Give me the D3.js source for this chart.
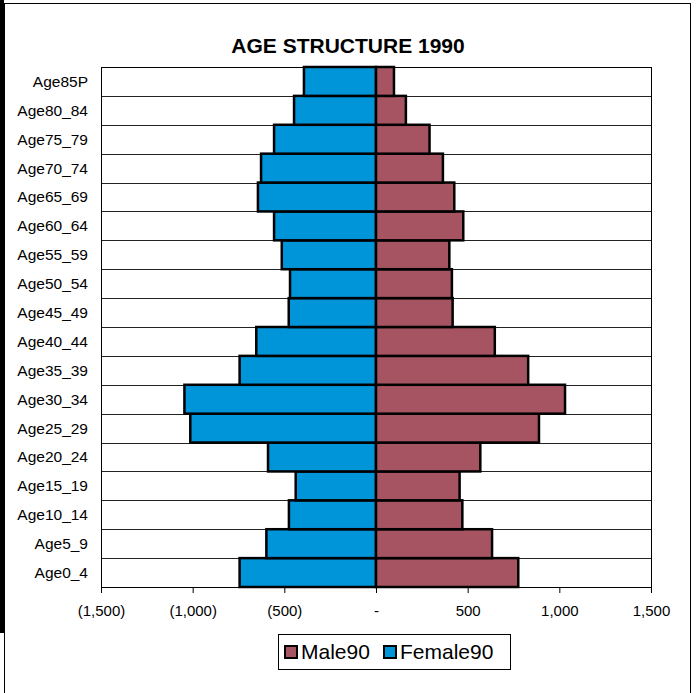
<!DOCTYPE html>
<html>
<head>
<meta charset="utf-8">
<script src="https://cdn.jsdelivr.net/npm/d3@7"></script>
<style>
  body { margin: 0; background: #fff; }
  svg { display: block; font-family: "Liberation Sans", Arial, sans-serif; }
</style>
</head>
<body>
<div id="chart"></div>
<script>
// age groups, bottom to top
var ageGroups = ["Age0_4", "Age5_9", "Age10_14", "Age15_19", "Age20_24", "Age25_29", "Age30_34",
  "Age35_39", "Age40_44", "Age45_49", "Age50_54", "Age55_59", "Age60_64", "Age65_69",
  "Age70_74", "Age75_79", "Age80_84", "Age85P"];
var male90 = [776, 633, 471, 456, 569, 889, 1031, 830, 648, 418, 414, 400, 476, 427, 365, 292, 163, 98];
var female90 = [744, 598, 475, 438, 589, 1013, 1045, 744, 653, 476, 469, 514, 556, 644, 627, 556, 447, 393];
var tickValues = [-1500, -1000, -500, 0, 500, 1000, 1500];
var tickLabels = ["(1,500)", "(1,000)", "(500)", "-", "500", "1,000", "1,500"];
var seriesNames = ["Male90", "Female90"];
var colors = { Male90: "#a65461", Female90: "#0094d9" };

var width = 696, height = 693;
var margin = { top: 67, right: 45, bottom: 106, left: 101 };

var svg = d3.select("#chart").append("svg")
    .attr("width", width)
    .attr("height", height);

// chart area border
svg.append("rect")
    .attr("x", 4.5).attr("y", 3.5)
    .attr("width", 686).attr("height", 700)
    .attr("fill", "none").attr("stroke", "#000").attr("stroke-width", 1);
svg.append("rect")
    .attr("x", 0).attr("y", 0)
    .attr("width", 4).attr("height", 633)
    .attr("fill", "#000");

var x = d3.scaleLinear()
    .domain([-1500, 1500])
    .range([margin.left, width - margin.right]);

var y = d3.scaleBand()
    .domain(ageGroups.slice().reverse())
    .range([margin.top, height - margin.bottom])
    .padding(0);

// title
svg.append("text")
    .attr("x", 348).attr("y", 53)
    .attr("text-anchor", "middle")
    .style("font-size", "21px").style("font-weight", "bold")
    .text("AGE STRUCTURE 1990");

// row separators
svg.append("g").selectAll("line")
    .data(ageGroups)
    .enter().append("line")
    .attr("x1", x(-1500)).attr("x2", x(1500))
    .attr("y1", function(d) { return Math.round(y(d)) + 0.5; })
    .attr("y2", function(d) { return Math.round(y(d)) + 0.5; })
    .attr("stroke", "#222").attr("stroke-width", 1);

// plot frame
svg.append("rect")
    .attr("x", x(-1500) + 0.5).attr("y", margin.top + 0.5)
    .attr("width", x(1500) - x(-1500)).attr("height", y.range()[1] - y.range()[0])
    .attr("fill", "none").attr("stroke", "#000").attr("stroke-width", 1);

// bars
var bars = svg.append("g");
bars.selectAll("rect.female")
    .data(ageGroups)
    .enter().append("rect")
    .attr("class", "female")
    .attr("x", function(d, i) { return x(-female90[i]); })
    .attr("y", function(d) { return y(d); })
    .attr("width", function(d, i) { return x(0) - x(-female90[i]); })
    .attr("height", y.bandwidth())
    .attr("fill", colors.Female90)
    .attr("stroke", "#000").attr("stroke-width", 2.5);

bars.selectAll("rect.male")
    .data(ageGroups)
    .enter().append("rect")
    .attr("class", "male")
    .attr("x", x(0))
    .attr("y", function(d) { return y(d); })
    .attr("width", function(d, i) { return x(male90[i]) - x(0); })
    .attr("height", y.bandwidth())
    .attr("fill", colors.Male90)
    .attr("stroke", "#000").attr("stroke-width", 2.5);

// x axis
var xaxis = d3.axisBottom(x)
    .tickValues(tickValues)
    .tickSize(6)
    .tickSizeOuter(0)
    .tickFormat(function(d, i) { return tickLabels[i]; });

var gx = svg.append("g")
    .attr("transform", "translate(0," + (height - margin.bottom) + ")")
    .call(xaxis);
gx.select(".domain").remove();
gx.selectAll("line").attr("stroke", "#000");
gx.selectAll("text")
    .attr("y", 18)
    .attr("fill", "#000")
    .style("font-size", "15px")
    .style("font-family", "'Liberation Sans', Arial, sans-serif");

// y labels
svg.append("g").selectAll("text")
    .data(ageGroups)
    .enter().append("text")
    .attr("x", 88)
    .attr("y", function(d) { return y(d) + y.bandwidth() / 2; })
    .attr("dy", "0.35em")
    .attr("text-anchor", "end")
    .style("font-size", "15.5px")
    .text(function(d) { return d; });

// legend
var legend = svg.append("g");
legend.append("rect")
    .attr("x", 278.5).attr("y", 634.5)
    .attr("width", 232).attr("height", 35)
    .attr("fill", "#fff").attr("stroke", "#000").attr("stroke-width", 1);

var legendX = [285, 384];
seriesNames.forEach(function(name, i) {
  legend.append("rect")
      .attr("x", legendX[i]).attr("y", 646)
      .attr("width", 12).attr("height", 12)
      .attr("fill", colors[name])
      .attr("stroke", "#000").attr("stroke-width", 2);
  legend.append("text")
      .attr("x", legendX[i] + 16).attr("y", 659)
      .style("font-size", "21px")
      .text(name);
});
</script>
</body>
</html>
